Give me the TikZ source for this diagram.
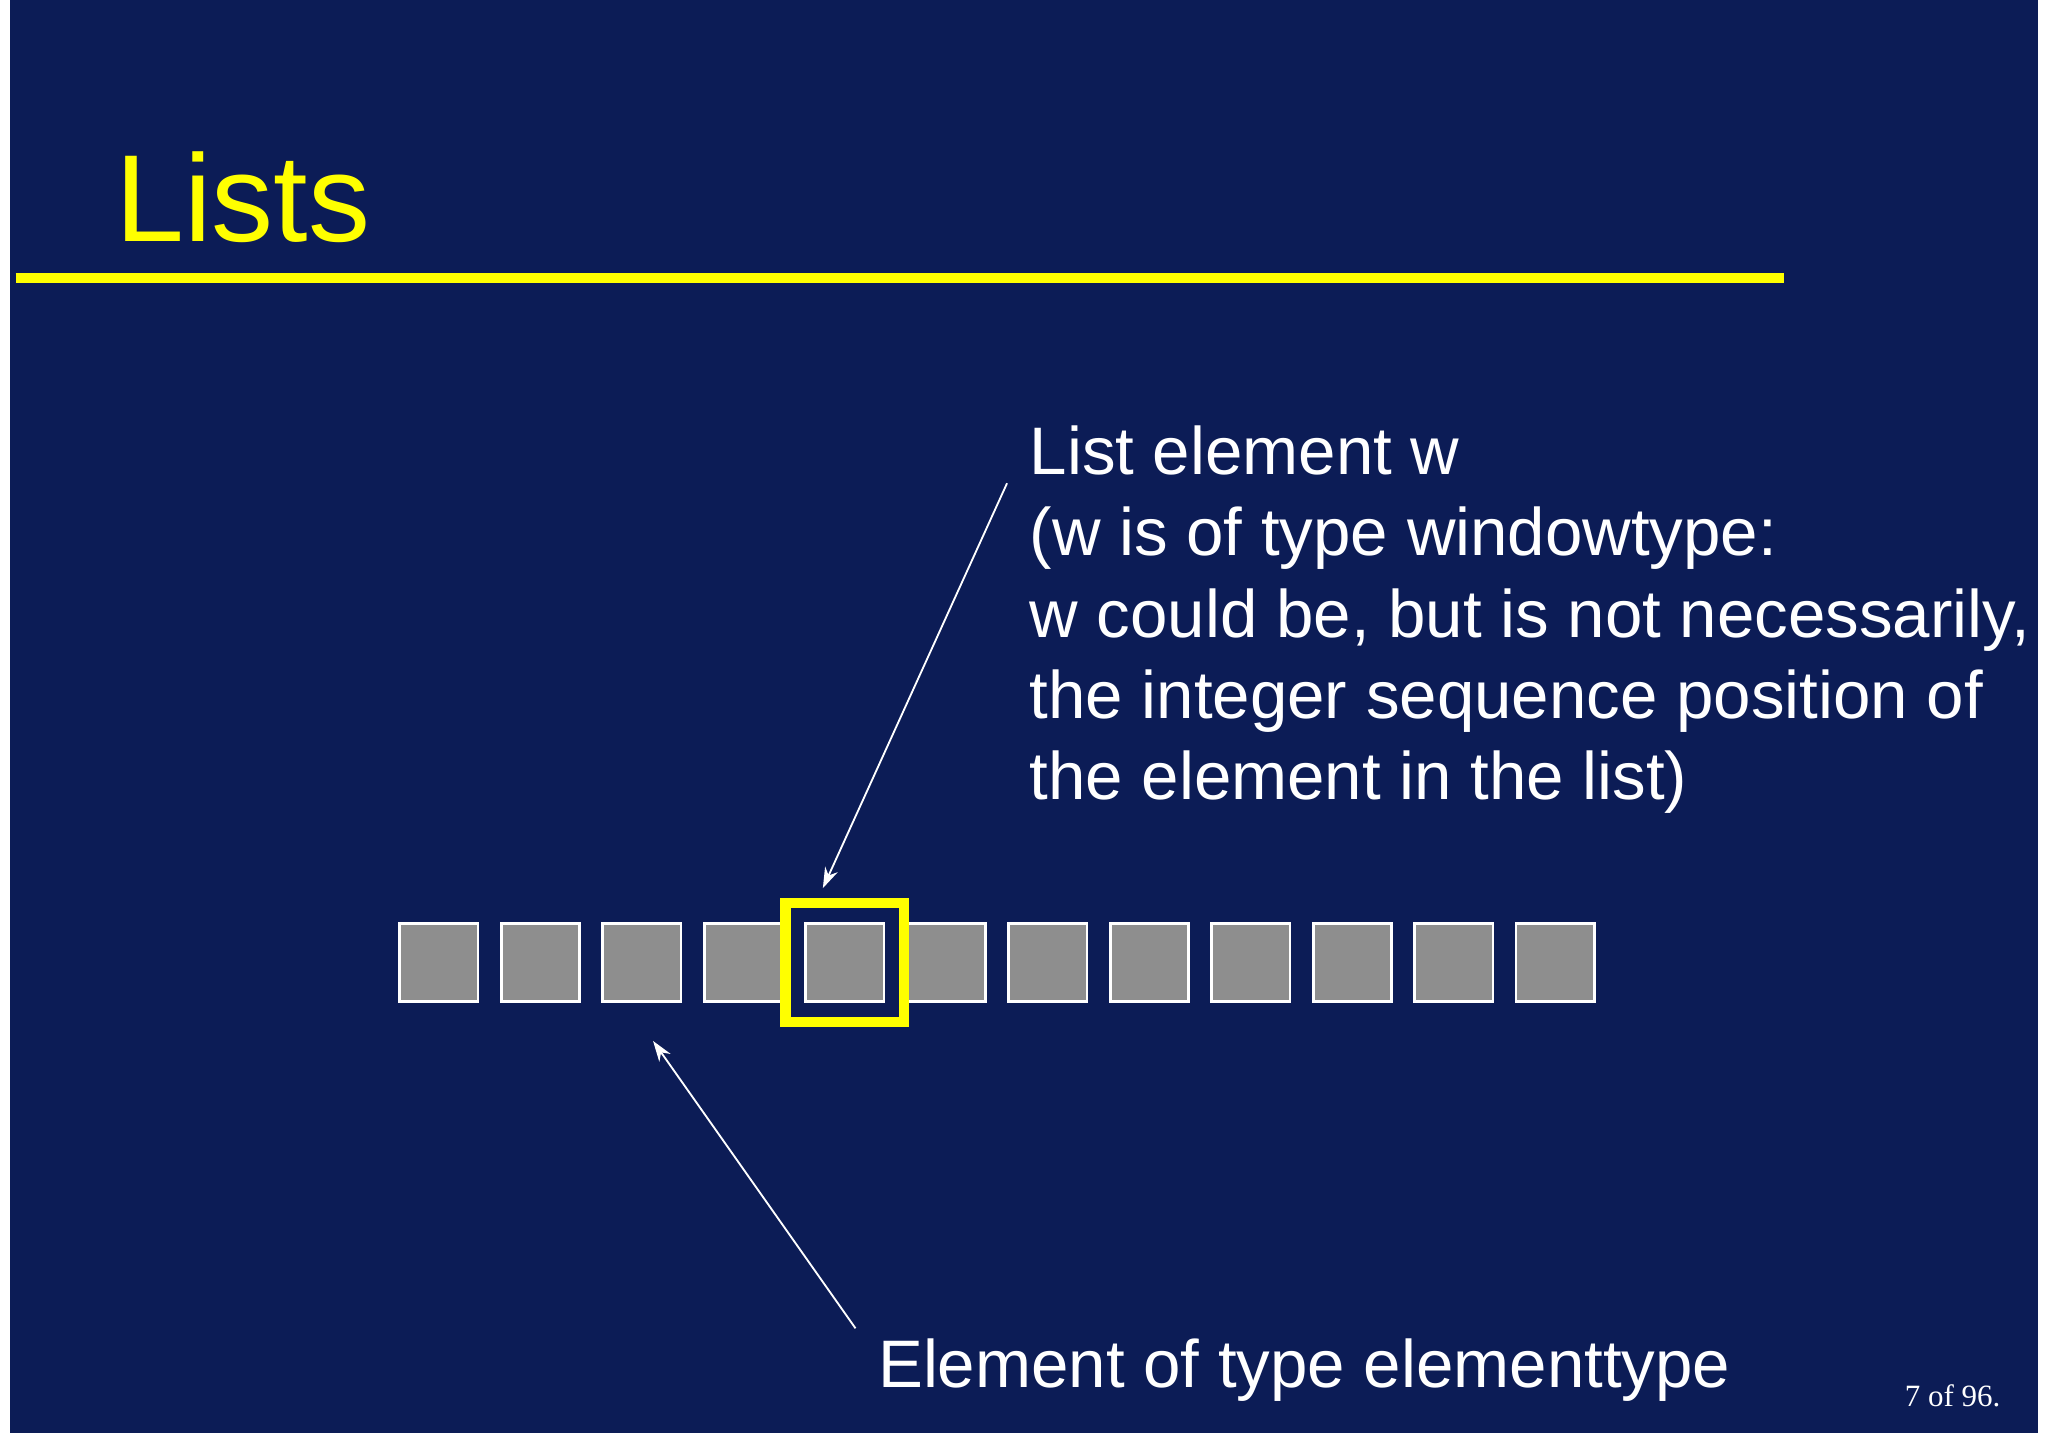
\documentclass[tikz,border=0pt]{standalone}
\usetikzlibrary{arrows.meta}
\usepackage{fontspec}
\setmainfont{Liberation Sans}
\newfontfamily\serifnum{Liberation Serif}
\definecolor{navy}{HTML}{0C1C56}
\definecolor{ylw}{HTML}{FFFF00}
\definecolor{cellgray}{HTML}{8E8E8E}
\begin{document}
\begin{tikzpicture}[x=0.02cm,y=-0.02cm,
  cell/.style={draw=white,line width=1.2pt,fill=cellgray,minimum size=1.2cm,inner sep=0,anchor=north west},
  txt/.style={text=white,anchor=base west,inner sep=0,font=\fontsize{29.3}{35}\selectfont},
  arr/.style={draw=white,line width=0.8pt,-{Stealth[length=9pt,width=6pt]}}]
\useasboundingbox (0,0) rectangle (1568,1097);
\fill[white] (0,0) rectangle (1568,1097);
\fill[navy] (8,0) rectangle (1560,1097);
\node[text=ylw,anchor=base west,inner sep=0,font=\fontsize{54}{60}\selectfont] (title) at (88,185) {Lists};
\draw[ylw,line width=4.5pt] (12,213) -- (1366,213);
\foreach \i in {0,...,11} {
  \node[cell] (c\i) at ({305+77.7*\i},706) {};
}
\node[draw=ylw,line width=4.5pt,minimum size=1.82cm,inner sep=0] (hl) at (c4.center) {};
\node[txt] (l1) at (788,363) {List element w};
\node[txt] (l2) at (788,425) {(w is of type windowtype:};
\node[txt] (l3) at (788,488) {w could be, but is not necessarily,};
\node[txt] (l4) at (788,550) {the integer sequence position of};
\node[txt] (l5) at (788,612) {the element in the list)};
\node[txt] (el) at (672,1062) {Element of type elementtype};
\node[text=white,anchor=base west,inner sep=0,font=\serifnum\fontsize{13.5}{16}\selectfont] (pg) at (1458,1077) {7 of 96.};
\coordinate (a1s) at (771,370);
\coordinate (a1e) at (630,680);
\coordinate (a2s) at (655,1017);
\coordinate (a2e) at (500,797);
\draw[arr] (a1s) -- (a1e);
\draw[arr] (a2s) -- (a2e);
\end{tikzpicture}
\end{document}
